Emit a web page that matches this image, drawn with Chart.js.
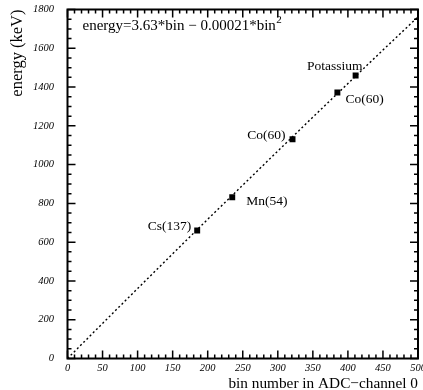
<!DOCTYPE html>
<html lang="en">
<head>
<meta charset="UTF-8">
<title>ADC energy calibration</title>
<script src="https://cdn.jsdelivr.net/npm/chart.js@4.4.0/dist/chart.umd.min.js"></script>
<style>
  html, body { margin: 0; padding: 0; background: #fff; }
  canvas { display: block; }
</style>
</head>
<body>
<canvas id="calib" width="423" height="390"></canvas>
<script>
// calibration peaks: source, ADC bin, energy (keV)
var sources = ['Cs(137)', 'Mn(54)', 'Co(60)', 'Co(60)', 'Potassium'];
var peakBins = [185, 235, 321, 385, 411];
var peakEnergy = [660, 832, 1131, 1372, 1460];

// fitted calibration curve, sampled along the bin axis
var fitBins = [0, 50, 100, 150, 200, 250, 300, 350, 400, 450, 500];
var fitEnergy = [0, 181, 361, 540, 718, 894, 1070, 1245, 1418, 1591, 1762];

// axis tick labels
var binTicks = [0, 50, 100, 150, 200, 250, 300, 350, 400, 450, 500];
var energyTicks = [0, 200, 400, 600, 800, 1000, 1200, 1400, 1600, 1800];

var SERIF = '"Liberation Serif", "Times New Roman", serif';

// where each source name sits relative to its marker
var labelPlace = [
    { dx: -6, dy: -4, align: 'right' },
    { dx: 14, dy: 4, align: 'left' },
    { dx: -7, dy: -4, align: 'right' },
    { dx: 8, dy: 7, align: 'left' },
    { dx: 7, dy: -9, align: 'right' }
];

// closed frame with inward ticks on all four sides
var framePlugin = {
    id: 'frame',
    afterDatasetsDraw: function (chart) {
        var ctx = chart.ctx, a = chart.chartArea;
        var xs = chart.scales.x, ys = chart.scales.y;
        ctx.save();
        ctx.strokeStyle = '#000';
        ctx.lineWidth = 1.5;
        ctx.beginPath();
        for (var v = 0; v <= 500; v += 10) {
            var len = v % 50 === 0 ? 8 : 4;
            var px = xs.getPixelForValue(v);
            ctx.moveTo(px, a.bottom); ctx.lineTo(px, a.bottom - len);
            ctx.moveTo(px, a.top); ctx.lineTo(px, a.top + len);
        }
        for (var e = 0; e <= 1800; e += 50) {
            var l = e % 200 === 0 ? 8 : 4;
            var py = ys.getPixelForValue(e);
            ctx.moveTo(a.left, py); ctx.lineTo(a.left + l, py);
            ctx.moveTo(a.right, py); ctx.lineTo(a.right - l, py);
        }
        ctx.stroke();
        ctx.lineWidth = 2;
        ctx.strokeRect(a.left, a.top, a.right - a.left, a.bottom - a.top);
        ctx.restore();
    }
};

// source names next to the peaks and the fit formula
var textPlugin = {
    id: 'texts',
    afterDatasetsDraw: function (chart) {
        var ctx = chart.ctx, a = chart.chartArea;
        var xs = chart.scales.x, ys = chart.scales.y;
        ctx.save();
        ctx.fillStyle = '#000';
        ctx.textBaseline = 'middle';
        ctx.font = '13.5px ' + SERIF;
        for (var i = 0; i < sources.length; i++) {
            var p = labelPlace[i];
            ctx.textAlign = p.align;
            ctx.fillText(sources[i], xs.getPixelForValue(peakBins[i]) + p.dx,
                ys.getPixelForValue(peakEnergy[i]) + p.dy);
        }
        ctx.textAlign = 'left';
        ctx.textBaseline = 'alphabetic';
        var fx = a.left + 15, fy = a.top + 20.5;
        var main = 'energy=3.63*bin \u2212 0.00021*bin';
        ctx.font = '15px ' + SERIF;
        ctx.fillText(main, fx, fy);
        var w = ctx.measureText(main).width;
        ctx.font = '11px ' + SERIF;
        ctx.fillText('2', fx + w + 0.5, fy - 7);
        ctx.restore();
    }
};

var fitPoints = fitBins.map(function (b, i) { return { x: b, y: fitEnergy[i] }; });
var peakPoints = peakBins.map(function (b, i) { return { x: b, y: peakEnergy[i] }; });

var tickFont = { family: SERIF, style: 'italic', size: 10.5 };

new Chart(document.getElementById('calib'), {
    type: 'scatter',
    data: {
        datasets: [
            {
                type: 'line',
                data: fitPoints,
                borderColor: '#000',
                borderWidth: 1.4,
                borderDash: [2, 2.5],
                pointRadius: 0,
                fill: false,
                tension: 0,
                order: 2
            },
            {
                data: peakPoints,
                pointStyle: 'rect',
                pointRadius: 4.2,
                pointHoverRadius: 4.2,
                backgroundColor: '#000',
                borderColor: '#000',
                borderWidth: 0,
                order: 1
            }
        ]
    },
    options: {
        responsive: false,
        animation: false,
        devicePixelRatio: 1,
        layout: { padding: { top: 9.5, right: 5, left: 0, bottom: 0 } },
        plugins: { legend: { display: false }, tooltip: { enabled: false } },
        scales: {
            x: {
                type: 'linear',
                position: 'bottom',
                min: 0,
                max: 500,
                grid: { display: false, drawTicks: false },
                border: { display: false },
                ticks: {
                    font: tickFont,
                    color: '#000',
                    padding: 3,
                    maxRotation: 0,
                    autoSkip: false,
                    callback: function (v) { return String(v); }
                },
                afterBuildTicks: function (s) {
                    s.ticks = binTicks.map(function (v) { return { value: v }; });
                },
                afterFit: function (s) {
                    s.height = 31.5;
                    s.paddingLeft = 0;
                    s.paddingRight = 0;
                },
                title: {
                    display: true,
                    text: 'bin number in ADC\u2212channel 0',
                    align: 'end',
                    color: '#000',
                    font: { family: SERIF, size: 15.3, lineHeight: 0.85 },
                    padding: { top: 0, bottom: 0 }
                }
            },
            y: {
                type: 'linear',
                position: 'left',
                min: 0,
                max: 1800,
                grid: { display: false, drawTicks: false },
                border: { display: false },
                ticks: {
                    font: tickFont,
                    color: '#000',
                    padding: 13.5,
                    autoSkip: false,
                    callback: function (v) { return String(v); }
                },
                afterBuildTicks: function (s) {
                    s.ticks = energyTicks.map(function (v) { return { value: v }; });
                },
                afterFit: function (s) {
                    s.width = 67.5;
                    s.paddingTop = 0;
                    s.paddingBottom = 0;
                },
                title: {
                    display: true,
                    text: 'energy (keV)',
                    align: 'end',
                    color: '#000',
                    font: { family: SERIF, size: 16.5, lineHeight: 1 },
                    padding: { top: 9, bottom: 0 }
                }
            }
        }
    },
    plugins: [framePlugin, textPlugin]
});
</script>
</body>
</html>
